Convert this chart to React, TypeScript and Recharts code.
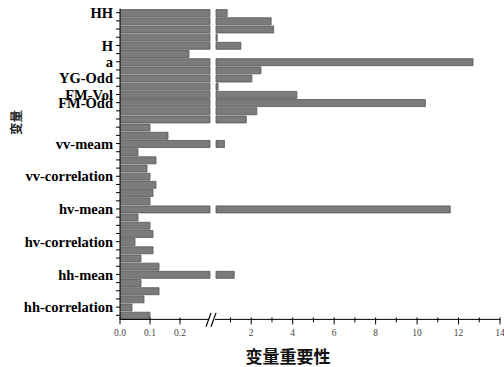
import React from 'react';
import { BarChart, Bar, XAxis, YAxis, ReferenceLine } from 'recharts';

// variable names (only every few rows labelled on the axis)
const categories = [
  'HH', '', '', '', 'H', '', 'a', '', 'YG-Odd', '', 'FM-Vol', 'FM-Odd', '', '', '', '',
  'vv-meam', '', '', '', 'vv-correlation', '', '', '', 'hv-mean', '', '', '',
  'hv-correlation', '', '', '', 'hh-mean', '', '', '', 'hh-correlation', '',
];
// variable importance values (top to bottom)
const importance = [
  0.84, 2.96, 3.08, 0.36, 1.5, 0.23, 12.7, 2.47, 2.03, 0.4, 4.2, 10.4, 2.27, 1.76,
  0.1, 0.16, 0.71, 0.06, 0.12, 0.09, 0.1, 0.12, 0.11, 0.1, 11.6, 0.06, 0.1, 0.11,
  0.05, 0.11, 0.07, 0.13, 1.18, 0.07, 0.13, 0.08, 0.04, 0.1,
];
const lowTicks = [0, 0.1, 0.2];
const lowTickLabels = ['0.0', '0.1', '0.2'];
const highTicks = [2, 4, 6, 8, 10, 12, 14];
const highMinorTicks = [1, 3, 5, 7, 9, 11, 13];

// broken axis: 0–0.3 then 0.3–14
const BREAK = 0.3;
const AXIS_MAX = 14;
const LOW_SPAN = 90;
const GAP = 6;
const HIGH_SPAN = 284;
const toDisplay = (v: number) =>
  v <= BREAK
    ? (v / BREAK) * LOW_SPAN
    : LOW_SPAN + GAP + ((v - BREAK) / (AXIS_MAX - BREAK)) * HIGH_SPAN;
const X_MAX = toDisplay(AXIS_MAX);
const X_DOMAIN_MAX = X_MAX + 0.4;

const rows = importance.map((v, i) => ({
  idx: i,
  name: categories[i],
  low: toDisplay(Math.min(v, BREAK)),
  gap: v > BREAK ? GAP : 0,
  high: v > BREAK ? toDisplay(v) - (LOW_SPAN + GAP) : 0,
}));

const xTickDefs = [
  ...lowTicks.map((t, i) => ({ pos: toDisplay(t), label: lowTickLabels[i] })),
  ...highMinorTicks.map((t) => ({ pos: toDisplay(t), label: null as string | null })),
  ...highTicks.map((t) => ({ pos: toDisplay(t), label: String(t) })),
].sort((a, b) => a.pos - b.pos);

const XTick = (props: any) => {
  const { x, y, payload } = props;
  const def = xTickDefs.find((d) => Math.abs(d.pos - payload.value) < 1e-6);
  const major = def && def.label !== null;
  return (
    <g>
      <line x1={x} x2={x} y1={y - 2} y2={y + (major ? 5 : 3)} stroke="#000" strokeWidth={1} />
      {major && (
        <text x={x} y={y + 17} textAnchor="middle" fontSize={9.5} fill="#444" fontFamily="Liberation Serif">
          {def!.label}
        </text>
      )}
    </g>
  );
};

const barFill = '#7b7b7b';
const barStroke = '#555';
const bottomIdx = categories.length - 0.5;

export default function App() {
  return (
    <div
      style={{
        position: 'absolute',
        left: 0,
        top: 0,
        width: 504,
        height: 367,
        overflow: 'hidden',
        background: '#fff',
        fontFamily: 'Liberation Serif',
      }}
    >
      <BarChart
        width={504}
        height={367}
        data={rows}
        layout="vertical"
        margin={{ top: 8.6, right: 3.6, bottom: 17.6, left: 0 }}
        barSize={7}
      >
        <XAxis
          type="number"
          domain={[0, X_DOMAIN_MAX]}
          ticks={xTickDefs.map((d) => d.pos)}
          interval={0}
          axisLine={false}
          tickLine={false}
          tickSize={0}
          tickMargin={0}
          tick={<XTick />}
          height={30}
          allowDataOverflow
          label={{
            content: (p: any) => (
              <text
                x={p.viewBox.x + 168}
                y={p.viewBox.y + 44}
                textAnchor="middle"
                fontSize={17}
                fontWeight="bold"
                fontFamily="Noto Sans CJK SC"
                fill="#111"
              >
                变量重要性
              </text>
            ),
          }}
        />
        <YAxis
          type="number"
          dataKey="idx"
          domain={[-0.5, bottomIdx]}
          ticks={categories.map((_, i) => i)}
          interval={0}
          tickFormatter={(i: number) => categories[i] ?? ''}
          width={120}
          axisLine={{ stroke: '#000' }}
          tickLine={{ stroke: '#000' }}
          tickSize={4}
          tickMargin={3}
          tick={{ fontSize: 14.5, fontWeight: 'bold', fill: '#000', fontFamily: 'Liberation Serif' }}
          label={{
            content: (p: any) => (
              <text
                transform={`translate(${p.viewBox.x + 15}, ${p.viewBox.y + 114}) rotate(-90)`}
                textAnchor="middle"
                dominantBaseline="central"
                fontSize={12.5}
                fontWeight="bold"
                fontFamily="Noto Sans CJK SC"
                fill="#222"
              >
                变量
              </text>
            ),
          }}
        />
        <Bar dataKey="low" stackId="s" fill={barFill} stroke={barStroke} strokeWidth={0.8} isAnimationActive={false} />
        <Bar dataKey="gap" stackId="s" fill="none" stroke="none" isAnimationActive={false} />
        <Bar dataKey="high" stackId="s" fill={barFill} stroke={barStroke} strokeWidth={0.8} isAnimationActive={false} />
        <ReferenceLine
          segment={[{ x: 0, y: bottomIdx }, { x: LOW_SPAN - 1, y: bottomIdx }]}
          stroke="#000"
          strokeWidth={1}
          ifOverflow="visible"
        />
        <ReferenceLine
          segment={[{ x: LOW_SPAN + GAP - 1, y: bottomIdx }, { x: X_DOMAIN_MAX, y: bottomIdx }]}
          stroke="#000"
          strokeWidth={1}
          ifOverflow="visible"
        />
        <ReferenceLine
          segment={[{ x: LOW_SPAN - 4, y: bottomIdx + 0.9 }, { x: LOW_SPAN + 1, y: bottomIdx - 0.8 }]}
          stroke="#000"
          strokeWidth={1.2}
          ifOverflow="visible"
        />
        <ReferenceLine
          segment={[{ x: LOW_SPAN + 1, y: bottomIdx + 0.9 }, { x: LOW_SPAN + 6, y: bottomIdx - 0.8 }]}
          stroke="#000"
          strokeWidth={1.2}
          ifOverflow="visible"
        />
      </BarChart>
    </div>
  );
}
